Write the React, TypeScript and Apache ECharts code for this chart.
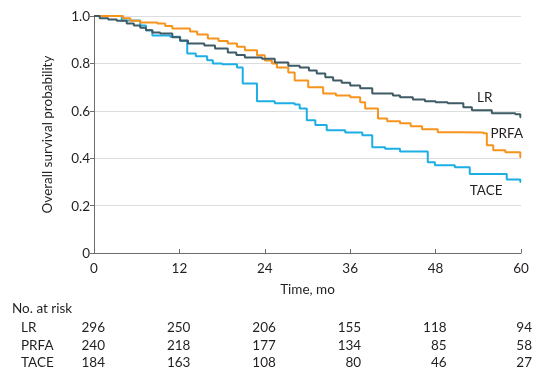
import React, { useEffect, useRef } from "react";
import * as echarts from "echarts";

const lrTime = [0, 0.8, 2.0, 3.2, 4.6, 5.6, 6.5, 7.3, 8.2, 9.3, 11.0, 12.1, 13.2, 15.5, 17.0, 18.8, 20.0, 21.2, 23.6, 25.4, 27.3, 28.9, 30.2, 31.3, 32.5, 33.6, 34.8, 36.0, 37.4, 39.1, 42.0, 43.0, 44.8, 46.5, 48.0, 49.7, 51.9, 53.1, 55.9, 59.2, 59.9, 60];
const lrSurv = [1.0, 0.99, 0.985, 0.98, 0.968, 0.96, 0.95, 0.94, 0.93, 0.926, 0.91, 0.897, 0.884, 0.876, 0.863, 0.846, 0.835, 0.825, 0.82, 0.804, 0.79, 0.783, 0.77, 0.757, 0.742, 0.728, 0.718, 0.707, 0.695, 0.673, 0.665, 0.657, 0.648, 0.64, 0.636, 0.632, 0.615, 0.602, 0.59, 0.585, 0.573, 0.573];

const prfaTime = [0, 4.1, 5.1, 6.5, 8.9, 10.0, 11.0, 13.5, 14.5, 16.0, 17.5, 18.8, 20.1, 21.2, 22.9, 24.0, 25.0, 25.7, 27.3, 28.2, 30.1, 32.2, 34.0, 36.0, 37.4, 38.1, 39.9, 41.2, 43.0, 44.5, 46.1, 48.3, 51.5, 54.7, 55.2, 56.1, 57.8, 59.9, 60];
const prfaSurv = [1.0, 0.99, 0.98, 0.973, 0.968, 0.958, 0.947, 0.935, 0.922, 0.905, 0.895, 0.884, 0.87, 0.855, 0.834, 0.812, 0.80, 0.783, 0.762, 0.728, 0.699, 0.673, 0.665, 0.657, 0.636, 0.61, 0.568, 0.556, 0.547, 0.535, 0.522, 0.51, 0.508, 0.505, 0.455, 0.434, 0.425, 0.404, 0.404];

const taceTime = [0, 3.9, 6.5, 7.3, 8.2, 10.7, 12.1, 13.1, 14.3, 15.9, 16.7, 18.0, 20.1, 20.9, 22.9, 25.4, 28.2, 28.9, 29.9, 31.1, 32.7, 35.3, 37.7, 39.1, 40.9, 43.0, 46.9, 47.9, 50.7, 52.8, 58.0, 59.9, 60];
const taceSurv = [1.0, 0.981, 0.96, 0.94, 0.918, 0.912, 0.895, 0.842, 0.83, 0.813, 0.80, 0.796, 0.783, 0.715, 0.64, 0.632, 0.627, 0.61, 0.56, 0.54, 0.518, 0.508, 0.497, 0.446, 0.44, 0.428, 0.383, 0.37, 0.362, 0.333, 0.31, 0.30, 0.30];

const groupNames = ["LR", "PRFA", "TACE"];
const groupColors = ["#3e5b66", "#f7941d", "#1daee6"];
const riskTimes = [0, 12, 24, 36, 48, 60];
const riskLR = [296, 250, 206, 155, 118, 94];
const riskPRFA = [240, 218, 177, 134, 85, 58];
const riskTACE = [184, 163, 108, 80, 46, 27];

const FONT = "Lato";
const TEXT = "#231f20";

export default function App() {
  const ref = useRef<HTMLDivElement>(null);
  useEffect(() => {
    const chart = echarts.init(ref.current!, null, { renderer: "svg" });
    const zip = (t: number[], s: number[]) => t.map((x, i) => [x, s[i]]);
    const seriesData = [zip(lrTime, lrSurv), zip(prfaTime, prfaSurv), zip(taceTime, taceSurv)];
    chart.setOption({
      animation: false,
      grid: { left: 94, right: 33, top: 16, bottom: 131 },
      textStyle: { fontFamily: FONT },
      xAxis: {
        type: "value",
        min: 0,
        max: 60,
        interval: 12,
        name: "Time, mo",
        nameLocation: "middle",
        nameGap: 29,
        nameTextStyle: { fontFamily: FONT, fontSize: 13.5, color: TEXT },
        axisLine: { lineStyle: { color: "#6d6e71", width: 1 } },
        axisTick: { inside: true, length: 4, lineStyle: { color: "#6d6e71" } },
        axisLabel: { margin: 8, fontFamily: FONT, fontSize: 13.5, color: TEXT },
        splitLine: { show: false },
      },
      yAxis: {
        type: "value",
        min: 0,
        max: 1,
        interval: 0.2,
        name: "Overall survival probability",
        nameLocation: "middle",
        nameGap: 40,
        nameTextStyle: { fontFamily: FONT, fontSize: 13.5, color: TEXT },
        axisLine: { show: true, lineStyle: { color: "#6d6e71", width: 1 } },
        axisTick: { show: true, length: 4, lineStyle: { color: "#6d6e71" } },
        axisLabel: {
          margin: 4,
          fontFamily: FONT,
          fontSize: 13.5,
          color: TEXT,
          formatter: (v: number) => (v === 0 ? "0" : v.toFixed(1)),
        },
        splitLine: { show: true, lineStyle: { color: "#dcdddf", width: 1 } },
      },
      series: groupNames.map((n, i) => ({
        name: n,
        type: "line",
        step: "end",
        showSymbol: false,
        symbol: "none",
        data: seriesData[i],
        lineStyle: { color: groupColors[i], width: 2 },
        z: 3 - i,
      })),
    });

    const px = (x: number, y: number) => chart.convertToPixel({ gridIndex: 0 }, [x, y]) as number[];
    const labelPos = [
      [54.9, 0.657],
      [58.0, 0.505],
      [55.1, 0.265],
    ];
    const graphics: any[] = [];
    groupNames.forEach((n, i) => {
      const p = px(labelPos[i][0], labelPos[i][1]);
      graphics.push({
        type: "text",
        x: p[0],
        y: p[1],
        style: { text: n, fontFamily: FONT, fontSize: 13.5, fill: TEXT, align: "center", verticalAlign: "middle" },
      });
    });
    graphics.push({
      type: "text",
      x: 12,
      y: 308,
      style: { text: "No. at risk", fontFamily: FONT, fontSize: 13.5, fill: TEXT, align: "left", verticalAlign: "middle" },
    });
    const rows = [riskLR, riskPRFA, riskTACE];
    const rowY = [327, 345, 362];
    rows.forEach((row, r) => {
      graphics.push({
        type: "text",
        x: 21,
        y: rowY[r],
        style: { text: groupNames[r], fontFamily: FONT, fontSize: 13.5, fill: TEXT, align: "left", verticalAlign: "middle" },
      });
      row.forEach((v, k) => {
        const p = px(riskTimes[k], 0);
        graphics.push({
          type: "text",
          x: p[0] + 11,
          y: rowY[r],
          style: { text: String(v), fontFamily: FONT, fontSize: 13.5, fill: TEXT, align: "right", verticalAlign: "middle" },
        });
      });
    });
    chart.setOption({ graphic: graphics });
    return () => chart.dispose();
  }, []);
  return <div ref={ref} style={{ position: "fixed", left: 0, top: 0, width: 554, height: 384 }} />;
}
